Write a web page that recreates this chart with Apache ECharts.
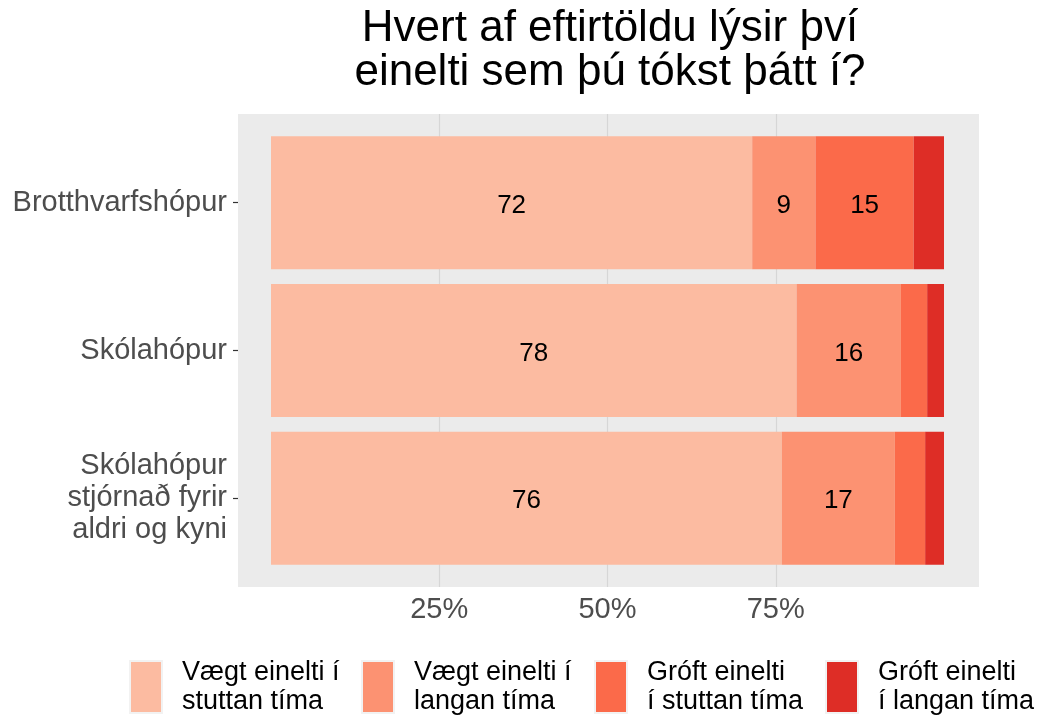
<!DOCTYPE html>
<html>
<head>
<meta charset="utf-8">
<script src="https://cdn.jsdelivr.net/npm/echarts@6/dist/echarts.min.js"></script>
<style>
html,body{margin:0;padding:0;background:#fff;}
#chart{width:1040px;height:718px;}
</style>
</head>
<body>
<div id="chart"></div>
<script>
// ---- data ----
var titleText = 'Hvert af eftirtöldu lýsir því\neinelti sem þú tókst þátt í?';
var categories = ['Brotthvarfshópur', 'Skólahópur', 'Skólahópur\nstjórnað fyrir\naldri og kyni'];
var seriesNames = ['Vægt einelti í\nstuttan tíma', 'Vægt einelti í\nlangan tíma', 'Gróft einelti\ní stuttan tíma', 'Gróft einelti\ní langan tíma'];
var vaegtStutt = [71.5, 78.1, 75.9];
var vaegtLangt = [9.4, 15.5, 16.8];
var groftStutt = [14.6, 3.9, 4.5];
var groftLangt = [4.5, 2.5, 2.8];
var xTicks = [0, 25, 50, 75, 100];
var colors = ['#FCBBA1', '#FC9272', '#FB6A4A', '#DE2D26'];

var FONT = "'Liberation Sans', Arial, sans-serif";
var values = [vaegtStutt, vaegtLangt, groftStutt, groftLangt];

var series = values.map(function (arr, i) {
  return {
    type: 'bar',
    name: seriesNames[i],
    stack: 'total',
    xAxisIndex: 1,
    yAxisIndex: 1,
    barCategoryGap: '10%',
    data: arr,
    itemStyle: { color: colors[i] },
    emphasis: { disabled: true },
    label: {
      show: true,
      position: 'inside',
      offset: [0, 3],
      color: '#000',
      fontFamily: FONT,
      fontSize: 26,
      formatter: function (p) { return p.value >= 5 ? String(Math.round(p.value)) : ''; }
    }
  };
});

var legendLefts = [129, 361, 594, 825];
var legends = seriesNames.map(function (n, i) {
  return {
    data: [n],
    left: legendLefts[i],
    top: 658,
    padding: 0,
    itemWidth: 32,
    itemHeight: 52,
    icon: 'rect',
    itemStyle: { borderColor: '#F2F2F2', borderWidth: 2 },
    textStyle: { fontFamily: FONT, fontSize: 27, lineHeight: 29, color: '#000', padding: [0, 0, 0, 15] }
  };
});

var chart = echarts.init(document.getElementById('chart'), null, { renderer: 'canvas' });
chart.setOption({
  backgroundColor: '#fff',
  animation: false,
  title: {
    text: titleText,
    left: 610,
    top: 7,
    padding: 0,
    textAlign: 'center',
    textStyle: { fontFamily: FONT, fontSize: 44, lineHeight: 44, fontWeight: 'normal', color: '#000' }
  },
  legend: legends,
  grid: [
    { left: 271, right: 96, top: 114, bottom: 131, show: true, backgroundColor: 'rgba(0,0,0,0)', borderWidth: 0, z: 1 },
    { left: 271, right: 96, top: 128.8, bottom: 145.8, show: false },
    { left: 238, right: 61, top: 114, bottom: 131, show: true, backgroundColor: '#EBEBEB', borderWidth: 0, z: 0 },
    { left: 238, right: 61, top: 128.8, bottom: 145.8, show: false }
  ],
  xAxis: [
    {
      gridIndex: 0, type: 'value', min: xTicks[0], max: xTicks[xTicks.length - 1], interval: 25,
      axisLine: { show: false }, axisTick: { show: false },
      splitLine: { show: true, showMinLine: false, showMaxLine: false, lineStyle: { color: '#D6D6D6', width: 1.2 } },
      axisLabel: {
        show: true, margin: 8, color: '#4D4D4D', fontFamily: FONT, fontSize: 29,
        showMinLabel: false, showMaxLabel: false,
        formatter: function (v) { return (v === 0 || v === 100) ? '' : v + '%'; }
      }
    },
    { gridIndex: 1, type: 'value', min: 0, max: 100, show: false },
    { gridIndex: 2, type: 'value', min: 0, max: 1, show: false },
    { gridIndex: 3, type: 'value', min: 0, max: 1, show: false }
  ],
  yAxis: [
    { gridIndex: 0, type: 'value', show: false },
    { gridIndex: 1, type: 'category', data: categories, inverse: true, show: false },
    { gridIndex: 2, type: 'value', min: 0, max: 1, show: false },
    {
      gridIndex: 3, type: 'category', data: categories, inverse: true,
      axisLine: { show: false },
      axisTick: { show: true, alignWithLabel: true, length: 5, lineStyle: { color: '#333', width: 1.2 } },
      splitLine: { show: false },
      axisLabel: { margin: 11, color: '#4D4D4D', fontFamily: FONT, fontSize: 29, lineHeight: 32, align: 'right' }
    }
  ],
  series: series
});
</script>
</body>
</html>
